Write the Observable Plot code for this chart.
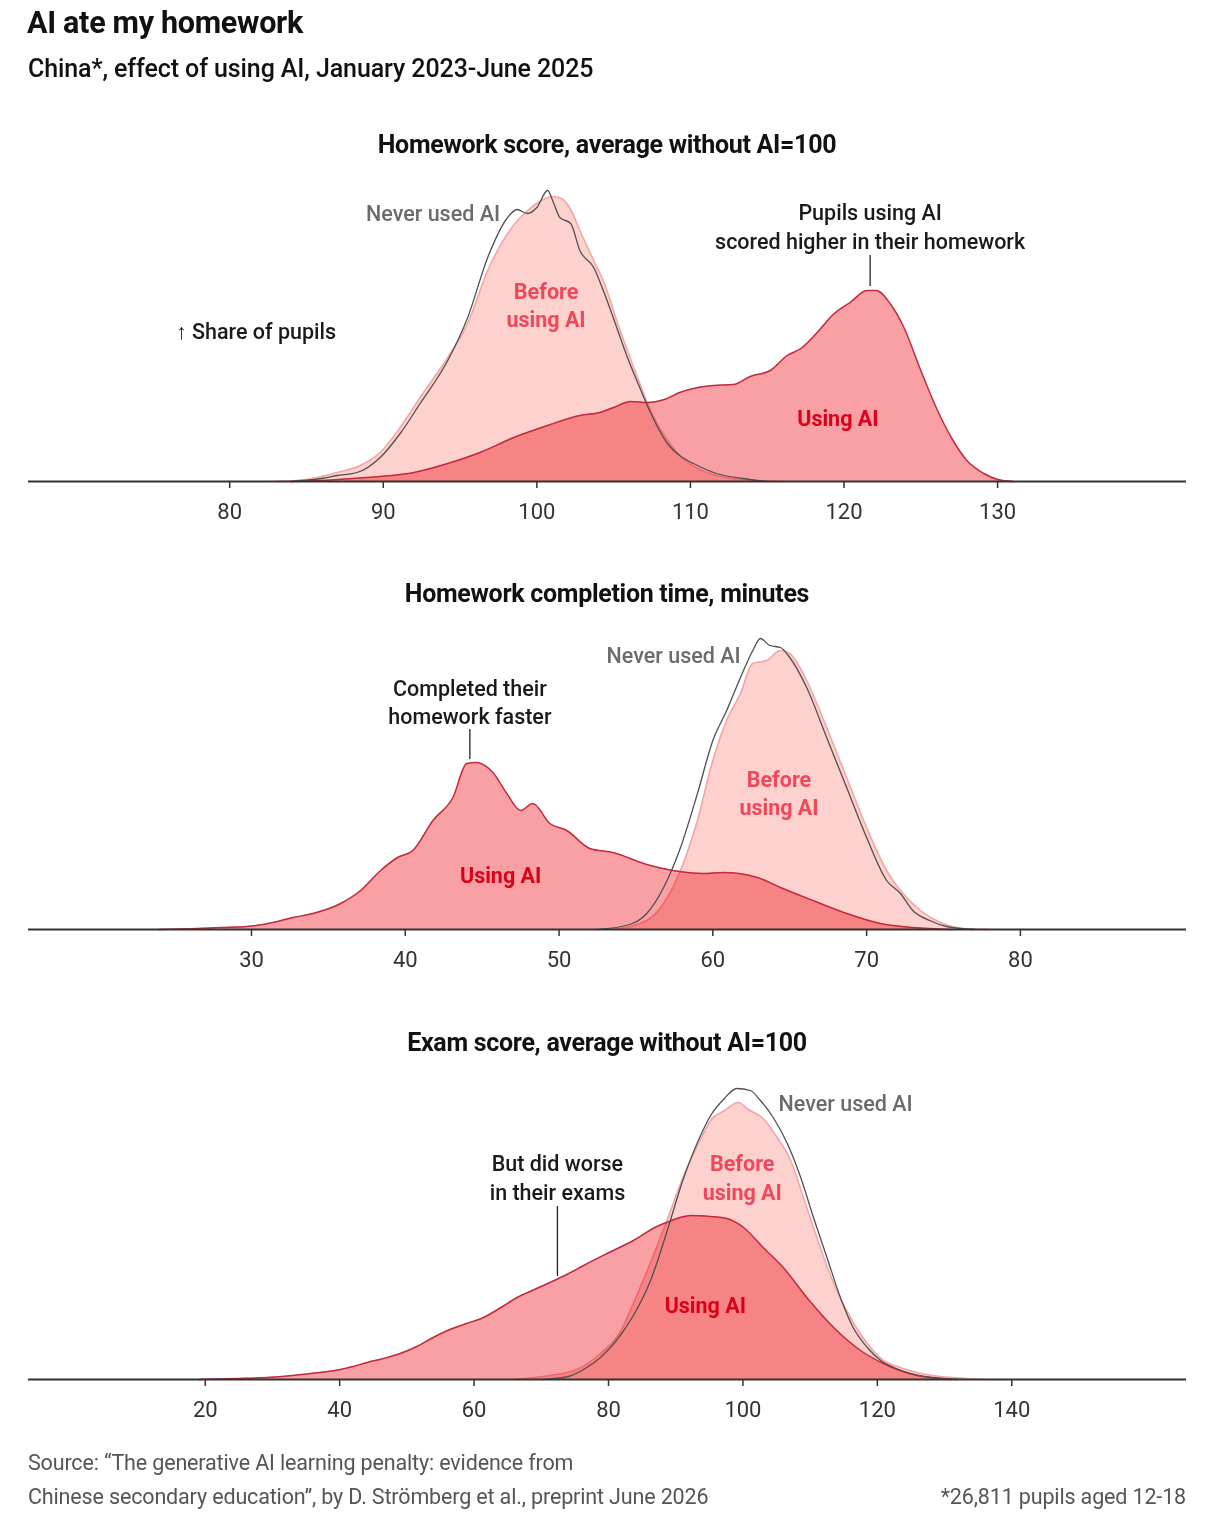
<!DOCTYPE html>
<html><head><meta charset="utf-8">
<script src="https://cdn.jsdelivr.net/npm/d3@7"></script>
<script src="https://cdn.jsdelivr.net/npm/@observablehq/plot@0.6"></script>
<style>
html,body{margin:0;padding:0;background:#fff;}
body{width:1206px;height:1517px;overflow:hidden;font-family:Roboto,"Noto Sans",sans-serif;position:relative;color:#111;}
.abs{position:absolute;line-height:1;white-space:nowrap;}
#title{left:27px;top:8px;font-size:30.5px;font-weight:700;letter-spacing:-0.3px;}
#subtitle{left:28px;top:56px;font-size:25px;font-weight:500;letter-spacing:-0.1px;}
.ptitle{left:0;width:1214px;text-align:center;font-size:25px;font-weight:700;letter-spacing:-0.3px;}
.foot{font-size:21.5px;color:#555;letter-spacing:-0.15px;}
.panel{position:absolute;left:0;}
.panel svg{overflow:visible;}
</style>
</head><body>
<div class="abs" id="title">AI ate my homework</div>
<div class="abs" id="subtitle">China*, effect of using AI, January 2023-June 2025</div>
<div class="abs ptitle" style="top:132px">Homework score, average without AI=100</div>
<div class="abs ptitle" style="top:581px">Homework completion time, minutes</div>
<div class="abs ptitle" style="top:1030px">Exam score, average without AI=100</div>
<div class="panel" id="p1" style="top:167px"></div>
<div class="panel" id="p2" style="top:615px"></div>
<div class="panel" id="p3" style="top:1065px"></div>
<div class="abs foot" style="left:28px;top:1452px">Source: “The generative AI learning penalty: evidence from</div>
<div class="abs foot" style="left:28px;top:1486px">Chinese secondary education”, by D. Strömberg et al., preprint June 2026</div>
<div class="abs foot" style="right:20px;top:1486px">*26,811 pupils aged 12-18</div>
<script>
// ---- Panel 1: homework score (average without AI = 100); [score, share of pupils index]
const scoreTicks = [80, 90, 100, 110, 120, 130];
const scoreNever = [[84,0],[86,0.3],[87,0.6],[88.3,0.9],[89.8,2.4],[91.1,4.8],[92.4,7.8],[94.2,12.1],[95.5,16.4],[96.8,22.4],[98.1,26.4],[98.7,27.2],[99.4,26.8],[100.0,27.4],[100.7,29.1],[101.1,27.8],[101.5,26.4],[102.2,25.8],[102.8,23.1],[103.7,21.4],[104.4,18.8],[105.2,15.4],[105.9,12.4],[106.7,9.4],[107.4,6.9],[108.5,3.8],[109.3,2.6],[110.2,1.8],[111.7,0.8],[113.4,0.3],[115,0]];
const scoreBefore = [[83,0],[85,0.2],[87,0.9],[88.5,1.6],[89.8,2.9],[91.1,5.4],[92.4,8.4],[94.2,12.4],[95.5,15.8],[96.8,21.1],[98.1,24.8],[99.4,27.1],[100.3,28.1],[101.0,28.5],[101.6,28.3],[102.2,27.2],[102.8,25.1],[103.7,22.1],[104.4,19.8],[105.2,16.1],[105.9,13.1],[106.7,9.8],[107.4,7.1],[108.3,4.6],[109.3,2.6],[110.6,1.2],[112,0.5],[114,0.1],[116,0]];
const scoreUsing = [[84,0],[86,0.1],[88,0.3],[89.8,0.5],[92,0.9],[94.2,1.8],[96.3,2.9],[98.5,4.4],[100.7,5.6],[102.8,6.6],[104.1,6.9],[105.0,7.4],[106.1,8.0],[107.2,7.9],[108.3,8.2],[109.3,8.9],[110.5,9.4],[111.5,9.6],[112.8,9.7],[113.9,10.5],[115.2,11.1],[116.3,12.6],[117.2,13.3],[118.2,14.8],[119.3,16.7],[120.4,17.9],[121.5,19.1],[122.1,19.1],[123.0,17.8],[123.9,15.4],[125.0,11.1],[126.0,7.4],[127.1,4.1],[128.0,2.1],[129.1,0.8],[130,0.2],[131,0]];

// ---- Panel 2: homework completion time, minutes
const timeTicks = [30, 40, 50, 60, 70, 80];
const timeNever = [[52.5,0],[54.6,0.5],[55.7,1.6],[56.8,4.2],[57.9,8.2],[59.0,13.6],[60.0,18.9],[60.9,21.9],[61.8,25.2],[62.6,27.9],[63.1,29.1],[63.7,28.4],[64.4,28.2],[65.0,27.2],[66.1,24.2],[67.4,19.2],[68.7,14.2],[70.0,9.2],[71.3,4.9],[72.2,3.6],[73.0,1.9],[74.1,0.9],[75.2,0.3],[77,0]];
const timeBefore = [[53.5,0],[55.7,0.9],[56.8,2.6],[57.9,5.9],[59.0,10.9],[60.0,16.9],[60.9,20.9],[61.8,23.6],[62.6,26.6],[63.5,26.9],[64.4,27.9],[65.0,27.6],[66.1,24.9],[67.4,20.2],[68.7,15.2],[70.0,10.2],[71.3,5.9],[72.2,3.9],[73.5,1.9],[74.8,0.7],[76.3,0.1],[78,0]];
const timeUsing = [[24,0],[26.5,0.1],[28,0.2],[29.7,0.3],[31.4,0.7],[32.7,1.2],[34.0,1.6],[35.8,2.6],[37.1,3.9],[38.4,5.9],[39.5,7.2],[40.5,7.9],[41.8,10.9],[43.1,13.2],[44.0,16.6],[44.6,16.7],[45.7,15.7],[46.6,13.6],[47.5,11.9],[48.3,12.6],[49.4,10.6],[50.5,9.9],[52.0,8.1],[53.5,7.7],[55.7,6.5],[57.4,5.9],[59.4,5.6],[60.7,5.7],[62.9,5.2],[64.4,4.2],[66.5,2.9],[68.7,1.6],[70.9,0.6],[73.0,0.2],[75.5,0]];

// ---- Panel 3: exam score (average without AI = 100)
const examTicks = [20, 40, 60, 80, 100, 120, 140];
const examNever = [[70,0],[74,0.3],[76.3,1.0],[78.8,2.2],[81.3,4.0],[83.7,6.4],[86.2,9.8],[88.7,14.8],[91.1,20.0],[93.7,24.4],[95.2,26.4],[97.1,28.0],[99.1,29.1],[101.1,28.9],[102.6,27.9],[104.5,26.2],[106.6,23.6],[108.6,20.2],[110.5,16.2],[112.5,12.2],[114.5,8.2],[116.4,5.2],[118.5,3.2],[120.5,1.9],[122.4,1.2],[124.4,0.7],[128.3,0.2],[132,0]];
const examBefore = [[66,0],[71.3,0.4],[75.3,1.0],[78.8,2.6],[81.8,4.8],[83.7,7.6],[86.2,11.6],[88.7,15.9],[91.2,20.4],[93.7,24.0],[95.2,25.9],[97.3,26.9],[99.3,27.7],[100.8,27.0],[103.0,26.1],[105.1,24.2],[107.1,21.9],[109.0,18.2],[111.0,14.2],[113.5,9.6],[116.0,6.2],[118.5,3.6],[120.9,1.9],[123.4,1.2],[125.9,0.7],[128.3,0.4],[133.3,0.1],[136,0]];
const examUsing = [[19,0],[25,0.1],[29.2,0.2],[33,0.4],[37,0.7],[40.1,1.0],[42,1.3],[44.1,1.7],[46.5,2.1],[49.0,2.6],[51.5,3.3],[53.9,4.2],[56.4,5.0],[58.9,5.6],[61.4,6.2],[64,7.2],[66.4,8.2],[69,9.0],[71.3,9.7],[73.8,10.5],[76.3,11.4],[79.8,12.6],[83.7,13.9],[87.2,15.3],[89,15.8],[90.7,16.2],[92.2,16.4],[95.1,16.3],[97.6,16.1],[100.1,15.2],[103.0,13.2],[106.0,11.2],[109.5,8.2],[113.5,5.2],[117.5,2.9],[120.9,1.6],[125.9,0.4],[131,0]];

// ---- Annotations (data coordinates): [x, share, text, kind, anchor]
const scoreNotes = [
  [97.6, 27.0, "Never used AI", "never", "end"],
  [100.6, 17.75, "Before\nusing AI", "before", "middle"],
  [119.6, 6.5, "Using AI", "using", "middle"],
  [121.7, 25.6, "Pupils using AI\nscored higher in their homework", "note", "middle"],
  [76.5, 15.2, "↑ Share of pupils", "note", "start"]
];
const scoreLeader = [[121.7, 22.6, 19.5]];
const timeNotes = [
  [61.8, 27.6, "Never used AI", "never", "end"],
  [64.3, 13.75, "Before\nusing AI", "before", "middle"],
  [46.2, 5.6, "Using AI", "using", "middle"],
  [44.2, 22.85, "Completed their\nhomework faster", "note", "middle"]
];
const timeLeader = [[44.2, 20.0, 17.0]];
const examNotes = [
  [105.3, 27.8, "Never used AI", "never", "start"],
  [99.9, 20.3, "Before\nusing AI", "before", "middle"],
  [94.4, 7.6, "Using AI", "using", "middle"],
  [72.4, 20.3, "But did worse\nin their exams", "note", "middle"]
];
const examLeader = [[72.4, 17.3, 10.3]];

const noteStyle = {
  never: {fill: "#6b6b6b", fontWeight: 500},
  before: {fill: "#f0475b", fontWeight: 700},
  using: {fill: "#de0019", fontWeight: 700},
  note: {fill: "#1a1a1a", fontWeight: 500}
};

function panel(el, domain, ticks, never, before, using, notes, leader) {
  const X = d => d[0], Y = d => d[1];
  const curve = "monotone-x";
  const textMarks = [];
  for (const kind of ["never", "before", "using", "note"]) {
    for (const anchor of ["start", "middle", "end"]) {
      const sub = notes.filter(n => n[3] === kind && n[4] === anchor);
      if (!sub.length) continue;
      textMarks.push(Plot.text(sub, {
        x: d => d[0], y: d => d[1], text: d => d[2],
        textAnchor: anchor, lineAnchor: "middle", lineHeight: 1.33,
        fontSize: 21.5, fontFamily: "Roboto, sans-serif", ...noteStyle[kind]
      }));
    }
  }
  const chart = Plot.plot({
    width: 1206, height: 369,
    marginLeft: 28, marginRight: 20, marginTop: 0, marginBottom: 55,
    x: {domain},
    y: {domain: [0, 31.4], axis: null},
    style: {fontFamily: "Roboto, sans-serif", background: "transparent", overflow: "visible"},
    marks: [
      Plot.areaY(before, {x: X, y: Y, fill: "#fdd2ce", curve}),
      Plot.lineY(before, {x: X, y: Y, stroke: "#f5a6a4", strokeWidth: 1.6, curve}),
      Plot.areaY(using, {x: X, y: Y, fill: "#f9a0a5", curve, mixBlendMode: "multiply"}),
      Plot.lineY(using, {x: X, y: Y, stroke: "#c42a3e", strokeWidth: 1.5, curve}),
      Plot.lineY(never, {x: X, y: Y, stroke: "#505050", strokeWidth: 1.3, curve}),
      Plot.ruleX(leader, {x: d => d[0], y1: d => d[1], y2: d => d[2], stroke: "#222", strokeWidth: 1.3}),
      Plot.ruleY([0], {stroke: "#333", strokeWidth: 2}),
      Plot.axisX({ticks, tickFormat: d => String(d), tickSize: 7, tickPadding: 15, fontSize: 22, stroke: "#333", strokeWidth: 1.5, fill: "#333", label: null}),
      ...textMarks
    ]
  });
  chart.querySelectorAll('[aria-label="x-axis tick label"]').forEach(g => { g.setAttribute("font-size", "22"); g.setAttribute("fill", "#333"); });
  document.getElementById(el).appendChild(chart);
}

panel("p1", [66.9, 142.3], scoreTicks, scoreNever, scoreBefore, scoreUsing, scoreNotes, scoreLeader);
panel("p2", [15.5, 90.8], timeTicks, timeNever, timeBefore, timeUsing, timeNotes, timeLeader);
panel("p3", [-6.3, 166.0], examTicks, examNever, examBefore, examUsing, examNotes, examLeader);
</script>
</body></html>
